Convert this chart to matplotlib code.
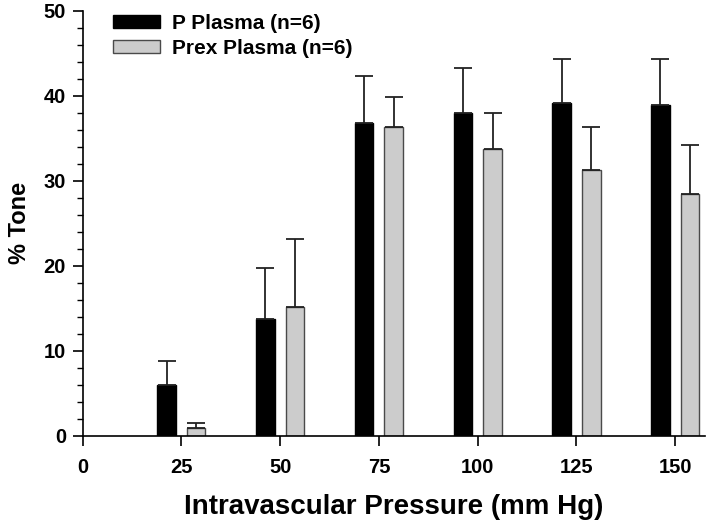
import matplotlib
matplotlib.use("Agg")
import matplotlib.pyplot as plt
from matplotlib.ticker import MultipleLocator
import numpy as np

plt.rcParams["font.family"] = ["Liberation Sans", "DejaVu Sans"]
plt.rcParams["font.weight"] = "bold"

pressure = [25, 50, 75, 100, 125, 150]
p_plasma = [6.0, 13.7, 36.8, 38.0, 39.1, 38.9]
p_plasma_err = [2.8, 6.1, 5.5, 5.3, 5.2, 5.4]
prex_plasma = [0.9, 15.2, 36.3, 33.7, 31.3, 28.5]
prex_plasma_err = [0.6, 7.9, 3.6, 4.3, 5.0, 5.7]

fig = plt.figure(figsize=(7.12, 5.22), dpi=100)
ax = fig.add_axes([0.116, 0.165, 0.874, 0.8145])

x = np.array(pressure)
offset = 3.75
width = 4.7
err_kw = dict(ecolor="#222222", elinewidth=1.3, capthick=1.3, capsize=6.5)

ax.bar(x - offset, p_plasma, width, color="black", edgecolor="black",
       linewidth=1, label="P Plasma (n=6)",
       yerr=[np.zeros(len(x)), p_plasma_err], error_kw=err_kw, zorder=2)
ax.bar(x + offset, prex_plasma, width, color="#cccccc", edgecolor="#4a4a4a",
       linewidth=1, label="Prex Plasma (n=6)",
       yerr=[np.zeros(len(x)), prex_plasma_err], error_kw=err_kw, zorder=2)

ax.set_xlim(0, 157.5)
ax.set_ylim(0, 50)
ax.xaxis.set_major_locator(MultipleLocator(25))
ax.yaxis.set_major_locator(MultipleLocator(10))
ax.yaxis.set_minor_locator(MultipleLocator(2))
ax.tick_params(axis="both", which="major", direction="out", length=7,
               width=1.2, labelsize=14.5, pad=5)
ax.tick_params(axis="y", which="minor", direction="out", length=4, width=1)
ax.tick_params(axis="x", pad=9)
for lab in ax.get_xticklabels() + ax.get_yticklabels():
    lab.set_fontweight("bold")

ax.spines["top"].set_visible(False)
ax.spines["right"].set_visible(False)
ax.spines["left"].set_linewidth(1.2)
ax.spines["bottom"].set_linewidth(1.2)

ax.set_xlabel("Intravascular Pressure (mm Hg)", fontsize=20, fontweight="bold",
              labelpad=12)
ax.set_ylabel("% Tone", fontsize=17, fontweight="bold", labelpad=9)

leg = ax.legend(loc="upper left", bbox_to_anchor=(0.019, 1.037), frameon=False,
                fontsize=15, handlelength=2.25, handleheight=0.58,
                labelspacing=0.3, handletextpad=0.58)
for t in leg.get_texts():
    t.set_fontweight("bold")

fig.savefig("out.png", dpi=100)
